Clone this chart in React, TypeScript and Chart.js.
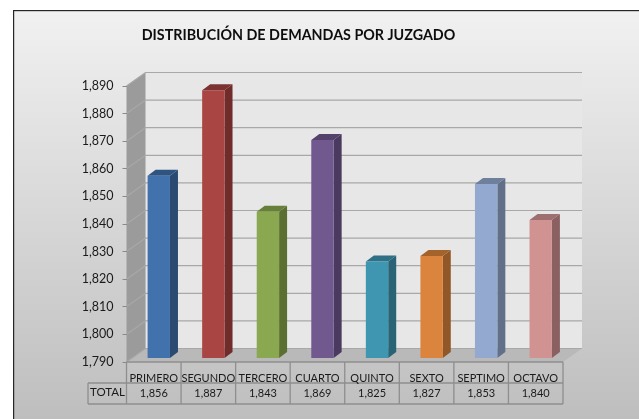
import React, { useEffect, useRef } from "react";
import { Chart, registerables } from "chart.js";

Chart.register(...registerables);

const titleText = "DISTRIBUCIÓN DE DEMANDAS POR JUZGADO";
const categories = ["PRIMERO", "SEGUNDO", "TERCERO", "CUARTO", "QUINTO", "SEXTO", "SEPTIMO", "OCTAVO"];
const totals = [1856, 1887, 1843, 1869, 1825, 1827, 1853, 1840];
const rowLabel = "TOTAL";
const frontColors = ["#4272AB", "#A94542", "#8AA84F", "#71588F", "#3F96B0", "#DB843D", "#93A9CF", "#D19392"];
const sideColors = ["#2A4A72", "#6F2C2A", "#5B6F33", "#4A3A5F", "#296375", "#915727", "#616F89", "#8A6060"];
const topColors = ["#2F5482", "#7C3230", "#66803A", "#54416C", "#2E7086", "#A5632C", "#6F809D", "#9D6F6E"];

const fmt = (n: number) => n.toLocaleString("en-US");
const FONT = "Lato, Carlito, 'Open Sans', sans-serif";
const DX = 19, DY = 13.5;           // wall depth
const BX = 5, BY = 4;               // bar offset into the depth
const SX = 8, SY = 6;               // bar depth

const poly = (c: CanvasRenderingContext2D, pts: number[][], fill: any) => {
  c.beginPath();
  pts.forEach(([x, y], i) => (i ? c.lineTo(x, y) : c.moveTo(x, y)));
  c.closePath();
  c.fillStyle = fill;
  c.fill();
};

const scenePlugin = {
  id: "scene",
  beforeDraw(chart: any) {
    const c: CanvasRenderingContext2D = chart.ctx;
    const { left: l, right: r, top: t, bottom: b } = chart.chartArea;
    const W = chart.width, H = chart.height;
    c.save();
    const g = c.createLinearGradient(0, 10, 0, H);
    g.addColorStop(0, "#F1F1F1");
    g.addColorStop(1, "#BEBEBE");
    c.fillStyle = "#FFFFFF";
    c.fillRect(0, 0, W, H);
    c.fillStyle = g;
    c.fillRect(13, 10, W - 13, H - 10);
    c.fillStyle = "#262626";
    c.fillRect(13, 10, W - 13, 1.2);
    c.fillRect(13, 10, 1.2, H - 10);

    // title
    c.fillStyle = "#0D0D0D";
    c.font = `bold 14.3px ${FONT}`;
    c.textAlign = "center";
    c.textBaseline = "middle";
    c.fillText(titleText, 298.5, 35.5);

    // walls
    poly(c, [[l + DX, t - DY], [r + DX, t - DY], [r + DX, b - DY], [l + DX, b - DY]], "#E7E7E7");
    poly(c, [[l, t], [l + DX, t - DY], [l + DX, b - DY], [l, b]], "#9B9B9B");
    poly(c, [[l, b], [r, b], [r + DX, b - DY], [l + DX, b - DY]], "#B9B9B9");

    // gridlines on the walls, from the value scale
    const ys = chart.scales.y;
    ys.ticks.forEach((tk: any) => {
      const y = ys.getPixelForValue(tk.value);
      c.strokeStyle = "#A8A8A8";
      c.lineWidth = 1.2;
      c.beginPath();
      c.moveTo(l, y);
      c.lineTo(l + DX, y - DY);
      c.lineTo(r + DX, y - DY);
      c.stroke();
    });

    // data table grid
    const xs = chart.scales.x;
    const step = (r - l) / categories.length;
    c.strokeStyle = "#8E8E8E";
    c.lineWidth = 1.3;
    c.beginPath();
    for (let i = 0; i <= categories.length; i++) {
      const x = xs.getPixelForValue(0) - step / 2 + i * step;
      c.moveTo(x, b);
      c.lineTo(x, 404);
    }
    c.moveTo(88, 383); c.lineTo(r, 383);
    c.moveTo(88, 404); c.lineTo(r, 404);
    c.moveTo(88, 383); c.lineTo(88, 404);
    c.moveTo(l, b); c.lineTo(r, b);
    c.stroke();
    c.fillStyle = "#1A1A1A";
    c.font = `11.5px ${FONT}`;
    c.fillText(rowLabel, 107.5, 392.5);
    c.restore();
  },
  beforeDatasetsDraw(chart: any) {
    const c: CanvasRenderingContext2D = chart.ctx;
    const base = chart.scales.y.getPixelForValue(1790);
    c.save();
    c.translate(BX, -BY);
    chart.getDatasetMeta(0).data.forEach((bar: any, i: number) => {
      const { x, y, width } = bar.getProps(["x", "y", "width"], true);
      const L = x - width / 2, R = x + width / 2;
      poly(c, [[R, y], [R + SX, y - SY], [R + SX, base - SY], [R, base]], sideColors[i]);
      poly(c, [[L, y], [L + SX, y - SY], [R + SX, y - SY], [R, y]], topColors[i]);
    });
  },
  afterDatasetsDraw(chart: any) {
    chart.ctx.restore();
  },
};

export default function App() {
  const ref = useRef<HTMLCanvasElement>(null);
  useEffect(() => {
    const chart = new Chart(ref.current!, {
      type: "bar",
      data: {
        labels: categories.map((c, i) => [c, fmt(totals[i])]),
        datasets: [{
          data: totals,
          backgroundColor: frontColors,
          barPercentage: 0.41,
          categoryPercentage: 1,
          borderSkipped: false,
        }],
      },
      options: {
        responsive: false,
        animation: false,
        layout: { padding: { top: 86, right: 76, left: 0, bottom: 0 } },
        plugins: { legend: { display: false }, title: { display: false }, tooltip: { enabled: false } },
        scales: {
          x: {
            afterFit: (s: any) => { s.height = 57; },
            grid: { display: false },
            border: { display: false },
            ticks: {
              maxRotation: 0, minRotation: 0, autoSkip: false, padding: 0,
              color: "#1A1A1A",
              font: { family: FONT, size: 11, lineHeight: 1.45 },
            },
          },
          y: {
            min: 1790,
            max: 1890,
            afterFit: (s: any) => { s.width = 126.5; },
            border: { display: false },
            grid: { drawOnChartArea: false, drawTicks: true, tickLength: 4, color: "#8A8A8A", lineWidth: 1 },
            ticks: {
              stepSize: 10, padding: 9,
              color: "#1A1A1A",
              font: { family: FONT, size: 12.5 },
              callback: (v: any) => fmt(Number(v)),
            },
          },
        },
      },
      plugins: [scenePlugin],
    } as any);
    return () => chart.destroy();
  }, []);
  return <canvas ref={ref} width={639} height={419} style={{ position: "fixed", left: 0, top: 0, display: "block" }} />;
}
